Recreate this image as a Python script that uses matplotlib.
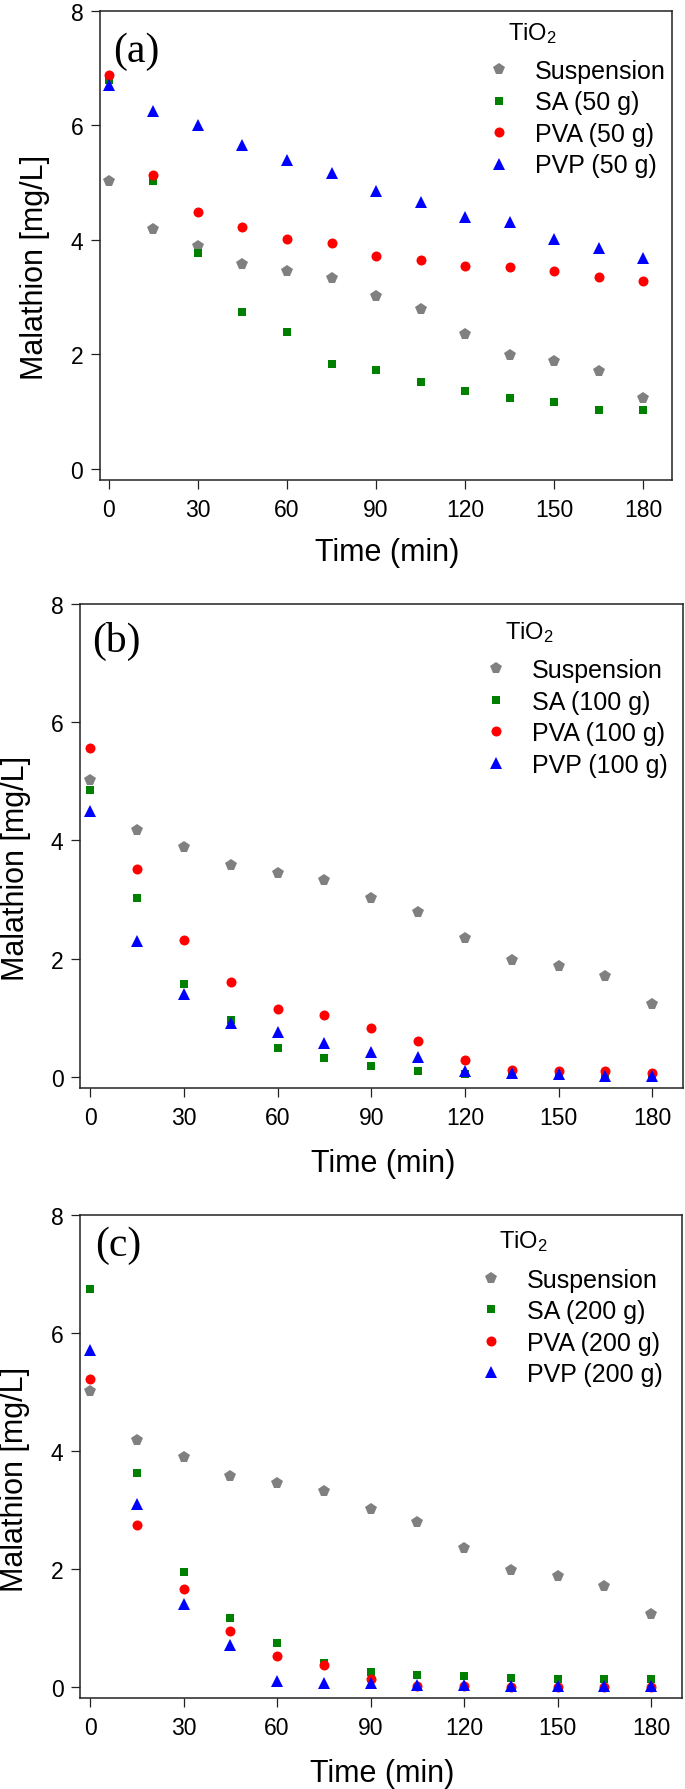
import matplotlib
matplotlib.use('Agg')
import matplotlib.pyplot as plt

plt.rcParams['font.family'] = ['Liberation Sans', 'DejaVu Sans']
plt.rcParams['mathtext.default'] = 'regular'

# Sampling times (min)
time_min = [0, 15, 30, 45, 60, 75, 90, 105, 120, 135, 150, 165, 180]

# Malathion concentration (mg/L), TiO2 suspension (same in every panel)
suspension = [5.02, 4.18, 3.89, 3.58, 3.45, 3.33, 3.02, 2.79, 2.35, 1.98, 1.88, 1.71, 1.23]

# (a) 50 g beads
sa_50 = [6.78, 5.02, 3.77, 2.73, 2.38, 1.83, 1.72, 1.52, 1.35, 1.24, 1.17, 1.03, 1.02]
pva_50 = [6.88, 5.13, 4.49, 4.23, 4.01, 3.94, 3.71, 3.65, 3.54, 3.53, 3.45, 3.35, 3.27]
pvp_50 = [6.70, 6.24, 6.00, 5.66, 5.39, 5.16, 4.85, 4.65, 4.39, 4.31, 4.01, 3.86, 3.68]

# (b) 100 g beads
sa_100 = [4.85, 3.02, 1.57, 0.96, 0.49, 0.31, 0.19, 0.10, 0.05, 0.04, 0.03, 0.02, 0.02]
pva_100 = [5.57, 3.52, 2.31, 1.60, 1.14, 1.05, 0.82, 0.61, 0.28, 0.12, 0.09, 0.09, 0.07]
pvp_100 = [4.50, 2.30, 1.40, 0.91, 0.75, 0.57, 0.42, 0.34, 0.10, 0.06, 0.04, 0.02, 0.02]

# (c) 200 g beads
sa_200 = [6.75, 3.62, 1.95, 1.17, 0.75, 0.40, 0.25, 0.21, 0.18, 0.15, 0.14, 0.14, 0.14]
pva_200 = [5.22, 2.74, 1.66, 0.95, 0.53, 0.38, 0.14, 0.02, 0.01, 0.00, 0.00, 0.00, 0.00]
pvp_200 = [5.71, 3.11, 1.40, 0.72, 0.10, 0.07, 0.06, 0.03, 0.03, 0.01, 0.01, 0.01, 0.01]

panel_tags = ['(a)', '(b)', '(c)']
doses = ['50 g', '100 g', '200 g']
sa_sets = [sa_50, sa_100, sa_200]
pva_sets = [pva_50, pva_100, pva_200]
pvp_sets = [pvp_50, pvp_100, pvp_200]

# layout of the three panels (figure fractions) and a few per-panel offsets
axes_rects = [[0.146, 0.7315, 0.835, 0.262],
              [0.117, 0.3916, 0.880, 0.2704],
              [0.117, 0.0507, 0.878, 0.270]]
tag_pos = [(0.023, 0.914), (0.020, 0.925), (0.025, 0.938)]
ylabel_x = [-0.114, -0.107, -0.109]
legend_anchor = [(0.676, 0.897), (0.669, 0.888), (0.662, 0.891)]
title_pos = [(0.713, 0.940), (0.704, 0.930), (0.697, 0.934)]
xlims = [(-3.0, 189.7), (-3.2, 189.8), (-3.2, 189.8)]

fig = plt.figure(figsize=(6.85, 17.9), dpi=100)

for i in range(3):
    ax = fig.add_axes(axes_rects[i])

    ax.plot(time_min, suspension, ls='none', marker='p', ms=8.4, mew=0, color='#808080', label='Suspension')
    ax.plot(time_min, sa_sets[i], ls='none', marker='s', ms=6.3, mew=0, color='#008000', label='SA (' + doses[i] + ')')
    ax.plot(time_min, pva_sets[i], ls='none', marker='o', ms=7.2, mew=0, color='#ff0000', label='PVA (' + doses[i] + ')')
    ax.plot(time_min, pvp_sets[i], ls='none', marker='^', ms=8.8, mew=0, color='#0000ff', label='PVP (' + doses[i] + ')')

    ax.set_xlim(*xlims[i])
    ax.set_ylim(-0.19, 8)
    ax.set_xticks(range(0, 181, 30))
    ax.set_yticks(range(0, 9, 2))
    ax.tick_params(axis='both', direction='out', length=6.5, width=0.9, labelsize=16.5, color='#222222')
    ax.tick_params(axis='x', pad=6.5)
    ax.tick_params(axis='y', pad=5.5)
    for sp in ax.spines.values():
        sp.set_linewidth(1.1)
        sp.set_color('#222222')

    ax.set_xlabel('Time (min)', fontsize=22, va='center')
    ax.xaxis.set_label_coords(0.502, -0.154)
    ax.set_ylabel('Malathion [mg/L]', fontsize=22, va='center')
    ax.yaxis.set_label_coords(ylabel_x[i], 0.455)

    ax.text(tag_pos[i][0], tag_pos[i][1], panel_tags[i], transform=ax.transAxes,
            family='Liberation Serif', fontsize=30, ha='left', va='center')

    ax.text(title_pos[i][0], title_pos[i][1], 'TiO$_2$', transform=ax.transAxes,
            fontsize=17, ha='left', va='baseline')
    ax.legend(loc='upper left', bbox_to_anchor=legend_anchor[i], frameon=False,
              fontsize=18, handlelength=1.0, handletextpad=0.94, labelspacing=0.3,
              borderpad=0, borderaxespad=0, numpoints=1)

fig.savefig('out.png', dpi=100)
